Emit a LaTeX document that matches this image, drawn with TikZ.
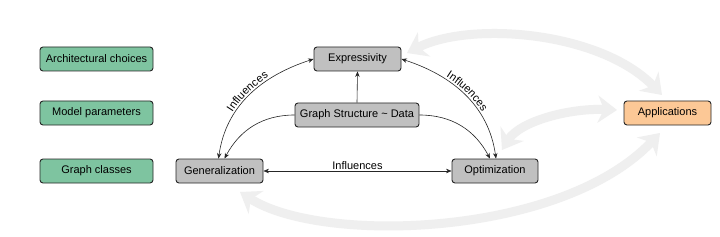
\documentclass[tikz,border=0pt]{standalone}
\usepackage{fontspec}
\setmainfont{Liberation Sans}
\usetikzlibrary{arrows.meta,decorations.text}
\definecolor{boxgreen}{RGB}{126,196,160}
\definecolor{boxorange}{RGB}{252,200,150}
\definecolor{boxgray}{RGB}{192,192,192}
\definecolor{bandgray}{RGB}{239,239,239}
\tikzset{
  myarr/.tip={Stealth[length=5.5pt,width=4.5pt]},
  bigarr/.tip={Stealth[length=19pt,width=27pt,inset=6pt]},
  box/.style={draw=black!85, line width=0.9pt, rounded corners=3pt, minimum height=24pt, inner sep=0pt, font=\fontsize{11}{13}\selectfont},
  greenbox/.style={box, fill=boxgreen, minimum width=113pt},
  graybox/.style={box, fill=boxgray},
  orangebox/.style={box, fill=boxorange, minimum width=87pt},
  conn/.style={draw=black!85, line width=0.6pt},
  lbl/.style={font=\fontsize{11}{13}\selectfont, inner sep=1.5pt},
  curvelbl/.style={postaction={decorate}, decoration={text along path, text align=center, raise=2.5pt, text={|\fontsize{11}{13}\selectfont|Influences}}},
  band/.style={draw=bandgray, line width=9pt, bigarr-bigarr}
}
\begin{document}
\begin{tikzpicture}[x=1pt,y=1pt]
\useasboundingbox (0,0) rectangle (720,236);
\fill[white] (0,0) rectangle (720,236);
% background bands
\coordinate (b1a) at (407,183);
\coordinate (b1b) at (662,141);
\coordinate (b2a) at (502,86);
\coordinate (b2b) at (617,126);
\coordinate (b3a) at (240,44);
\coordinate (b3b) at (660,103);
\draw[band] (b1a) .. controls (470,215) and (600,205) .. (b1b);
\draw[band] (b2a) .. controls (520,115) and (570,128) .. (b2b);
\draw[band] (b3a) .. controls (320,-8) and (560,-2) .. (b3b);
% nodes
\node[greenbox] (arch) at (96.5,177) {Architectural choices};
\node[greenbox] (model) at (96.5,123) {Model parameters};
\node[greenbox] (gclass) at (96.5,65) {Graph classes};
\node[graybox, minimum width=87pt] (gen) at (219.5,65) {Generalization};
\node[graybox, minimum width=87pt] (exp) at (357.5,177) {Expressivity};
\node[graybox, minimum width=124pt] (gsd) at (357,121) {Graph Structure \char`\~{} Data};
\node[graybox, minimum width=86pt] (opt) at (495,65) {Optimization};
\node[orangebox] (app) at (667.5,123) {Applications};
% connectors
\draw[conn, myarr-myarr] (gen.east) -- node[lbl, above] {Influences} (opt.west);
\draw[conn, -myarr] (gsd.north) -- (exp.south);
\draw[conn, myarr-myarr] ([xshift=-1pt]gen.north) to[out=82,in=198] (exp.west);
\path[curvelbl] ([xshift=-1pt]gen.north) to[out=82,in=198] (exp.west);
\draw[conn, -myarr] (gsd.west) to[out=180,in=62] ([xshift=5pt]gen.north);
\draw[conn, myarr-myarr] (exp.east) to[out=-18,in=98] ([xshift=1pt]opt.north);
\path[curvelbl] (exp.east) to[out=-18,in=98] ([xshift=1pt]opt.north);
\draw[conn, -myarr] (gsd.east) to[out=0,in=118] ([xshift=-5pt]opt.north);
\end{tikzpicture}
\end{document}
